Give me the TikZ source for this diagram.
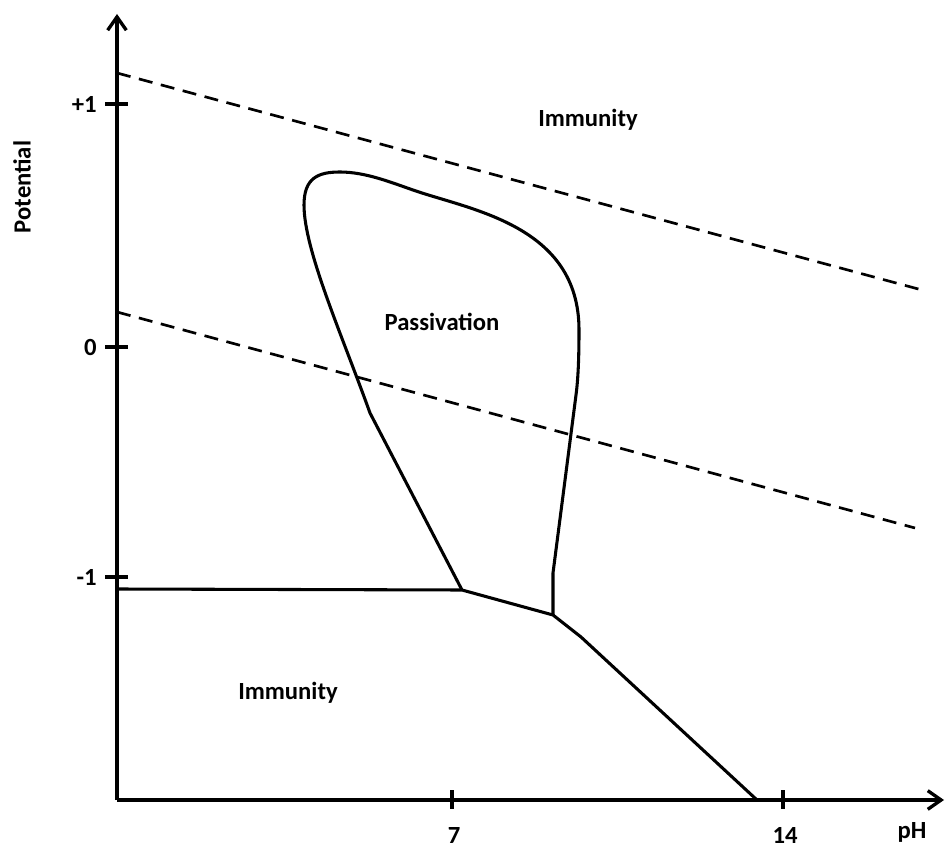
\documentclass[tikz,border=0pt]{standalone}
\usepackage{fontspec}
\setmainfont{Carlito}
\usetikzlibrary{arrows.meta}
\newcommand{\Unit}{0.75pt}
\newcommand{\Axis}{2.5pt}
\newcommand{\Edge}{2.3pt}
\definecolor{ink}{HTML}{000000}

\begin{document}
\begin{tikzpicture}[x=\Unit,y=\Unit, line join=round,
  font=\bfseries\fontsize{18.5}{22}\selectfont,
  region/.style={text=ink},
  border/.style={ink,line width=\Edge},
  wateredge/.style={ink,line width=2pt,dash pattern=on 10.5pt off 6.5pt}]
  \useasboundingbox (0,0) rectangle (945,850);

  % ---- axes ---------------------------------------------------------------
  \coordinate (origin) at (117,50);
  \coordinate (ytop) at (117,836);
  \coordinate (xend) at (944,50);
  \draw[ink,line width=\Axis,-{Straight Barb[length=10pt,width=14pt]}] (origin) -- (ytop);
  \draw[ink,line width=\Axis,-{Straight Barb[length=10pt,width=14pt]}] (origin) -- (xend);
  \foreach \y/\t/\n in {746/+1/plus, 503/0/zero, 273/-1/minus} {
    \draw[ink,line width=\Axis] (105,\y) -- (128,\y);
    \node[anchor=east,inner sep=0pt] (lab\n) at (97,\y) {\t};
  }
  \foreach \x/\t in {452/7, 783/14} {
    \draw[ink,line width=\Axis] (\x,60) -- (\x,41);
    \node (lab\t) at (\x+2,15) {\t};
  }
  \node (labph) at (912,18) {pH};
  \node[rotate=90] (labpot) at (22,663) {Potential};

  % ---- water stability lines ----------------------------------------------
  \draw[wateredge] (117,777) -- (922,560);
  \draw[wateredge] (117,538) -- (915,322);

  % ---- domain borders -----------------------------------------------------
  \coordinate (A) at (462,260);
  \coordinate (B) at (553,235);
  \coordinate (C) at (581,213);
  \coordinate (D) at (757,50);
  \draw[border] (117,261) -- (A) -- (B) -- (C) -- (D);
  % The passivation pocket, closed at A and B.
  \draw[border] (A) -- (370,437)
    .. controls (342,515) and (304,600) .. (304,645)
    .. controls (304,672) and (318,678) .. (340,678)
    .. controls (365,678) and (390,668) .. (413,660)
    .. controls (470,640) and (579,625) .. (579,520)
    .. controls (579,490) and (578,470) .. (576,455)
    -- (553,277) -- (B);

  % ---- region names -------------------------------------------------------
  \node[region] (immtop) at (588,730) {Immunity};
  \node[region] (passiv) at (442,528) {Passivation};
  \node[region] (immlow) at (288,157) {Immunity};

\end{tikzpicture}
\end{document}
